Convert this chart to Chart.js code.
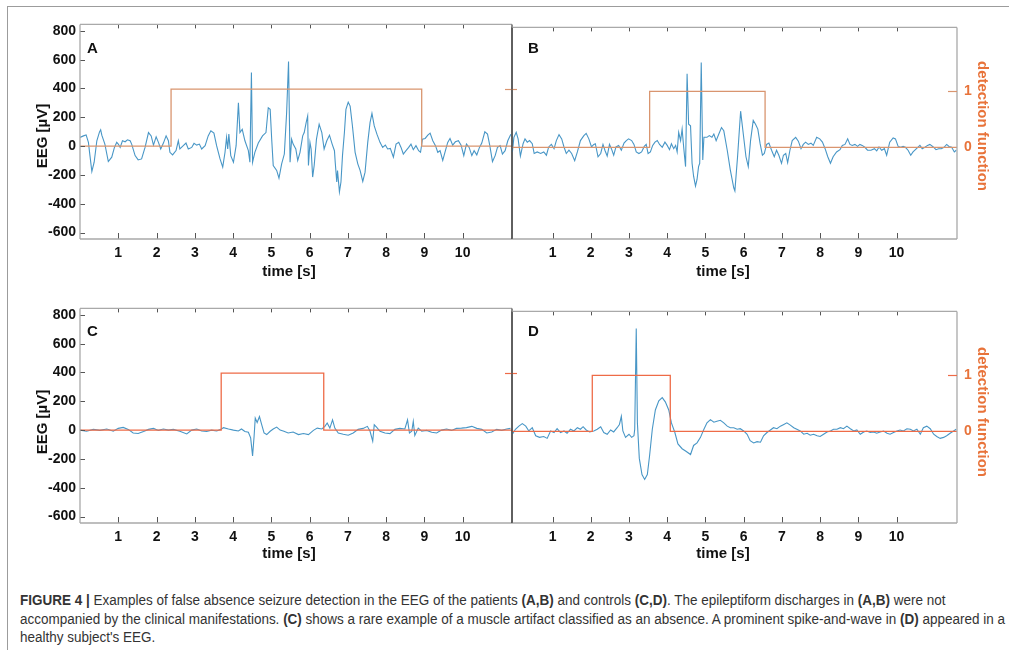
<!DOCTYPE html>
<html>
<head>
<meta charset="utf-8">
<script src="https://cdn.jsdelivr.net/npm/chart.js@4.4.1/dist/chart.umd.min.js"></script>
<style>
  body { margin:0; background:#fff; width:1009px; height:650px; overflow:hidden; position:relative; font-family:"Liberation Sans", Arial, sans-serif; }
  .frame-top { position:absolute; left:7px; top:6px; width:1002px; height:0; border-top:1.5px solid #9c9c9c; }
  .frame-left { position:absolute; left:7px; top:6px; width:0; height:644px; border-left:1.5px solid #9c9c9c; }
  canvas { position:absolute; }
  .lbl { position:absolute; font-weight:bold; color:#111; white-space:nowrap; transform:translate(-50%,-50%); }
  .ttl { font-size:15px; }
  .ylab { transform:translate(-50%,-50%) rotate(-90deg); }
  .dlab { transform:translate(-50%,-50%) rotate(90deg); color:#e8733a; }
  .letter { font-size:15px; transform:none; }
  .cl { position:absolute; left:20px; white-space:nowrap; font-size:14px; color:#333; transform-origin:0 50%; line-height:18px; }
</style>
</head>
<body>
<div class="frame-top"></div>
<div class="frame-left"></div>

<canvas id="cA" width="510" height="270" style="left:20px;top:12px"></canvas>
<canvas id="cB" width="505" height="270" style="left:500px;top:12px"></canvas>
<canvas id="cC" width="510" height="270" style="left:20px;top:296px"></canvas>
<canvas id="cD" width="505" height="270" style="left:500px;top:296px"></canvas>

<div class="lbl letter" style="left:87px;top:39px">A</div>
<div class="lbl letter" style="left:528px;top:39px">B</div>
<div class="lbl letter" style="left:87px;top:322px">C</div>
<div class="lbl letter" style="left:528px;top:322px">D</div>

<div class="lbl ttl ylab" style="left:41px;top:136px">EEG [µV]</div>
<div class="lbl ttl ylab" style="left:41px;top:422px">EEG [µV]</div>
<div class="lbl ttl" style="left:289px;top:270px">time [s]</div>
<div class="lbl ttl" style="left:723px;top:270px">time [s]</div>
<div class="lbl ttl" style="left:289px;top:552px">time [s]</div>
<div class="lbl ttl" style="left:723px;top:552px">time [s]</div>
<div class="lbl ttl dlab" style="left:983px;top:126px">detection function</div>
<div class="lbl ttl dlab" style="left:983px;top:412px">detection function</div>

<div class="cl" style="top:591px"><b>FIGURE 4 |</b> Examples of false absence seizure detection in the EEG of the patients <b>(A,B)</b> and controls <b>(C,D)</b>. The epileptiform discharges in <b>(A,B)</b> were not</div>
<div class="cl" style="top:610px">accompanied by the clinical manifestations. <b>(C)</b> shows a rare example of a muscle artifact classified as an absence. A prominent spike-and-wave in <b>(D)</b> appeared in a</div>
<div class="cl" style="top:628px">healthy subject's EEG.</div>

<script>
// ---- data ----
const xTicks = [1, 2, 3, 4, 5, 6, 7, 8, 9, 10];
const yTicks = [-600, -400, -200, 0, 200, 400, 600, 800];
const detTicks = [0, 1];

// panel A (patient)
const timeA = [0.00,0.09,0.16,0.22,0.26,0.31,0.37,0.44,0.51,0.54,0.57,0.65,0.74,0.83,0.90,0.96,1.00,1.05,1.11,1.18,1.24,1.31,1.35,1.44,1.52,1.61,1.70,1.79,1.86,1.92,1.99,2.05,2.11,2.18,2.25,2.31,2.35,2.42,2.51,2.57,2.61,2.70,2.77,2.83,2.92,2.98,3.05,3.12,3.18,3.27,3.35,3.42,3.50,3.57,3.66,3.73,3.79,3.83,3.86,3.89,3.94,4.01,4.08,4.14,4.18,4.24,4.31,4.40,4.44,4.48,4.51,4.57,4.66,4.77,4.86,4.92,4.97,5.01,5.05,5.14,5.20,5.27,5.34,5.40,5.45,5.49,5.53,5.57,5.64,
  5.69,5.75,5.82,5.86,5.91,5.95,5.97,6.01,6.04,6.08,6.12,6.18,6.25,6.32,6.38,6.45,6.52,6.59,6.65,6.67,6.71,6.73,6.78,6.82,6.86,6.91,6.95,7.01,7.06,7.12,7.19,7.26,7.32,7.39,7.45,7.52,7.58,7.63,7.69,7.76,7.84,7.91,7.98,8.04,8.11,8.19,8.26,8.33,8.39,8.45,8.52,8.59,8.65,8.71,8.78,8.85,8.90,8.95,9.02,9.09,9.15,9.22,9.29,9.35,9.41,9.48,9.55,9.61,9.67,9.74,9.81,9.89,9.96,10.03,10.10,10.17,10.24,10.30,10.37,10.44,10.50,10.58,10.65,10.71,10.78,10.85,10.91,10.98,11.04,11.11,11.18,11.26];
const eegA = [60,71,78,26,-66,-176,-112,37,99,113,76,14,-107,-77,-9,26,14,-9,37,30,44,37,14,-66,-96,-89,-9,94,71,7,65,26,-20,21,71,37,-43,-61,-31,37,-20,3,21,-20,-9,19,7,14,-20,3,71,106,90,3,-89,-146,-43,60,-20,83,-66,-112,3,300,94,117,37,-31,-112,511,-112,-43,21,71,94,266,255,48,-135,-169,-222,-123,-55,232,587,-112,48,14,-20,
  -100,-43,71,94,163,209,-135,26,-20,-215,-135,48,152,94,-20,37,76,14,-32,-112,-249,-169,-318,-249,-66,94,255,305,278,140,-43,-123,-169,-245,-181,26,163,227,140,83,26,-9,7,-20,-16,-77,14,26,-9,-55,-32,-9,14,-25,3,-32,-43,48,53,76,90,37,3,-43,-32,-100,-32,26,53,7,30,37,7,-66,14,-9,-66,-32,-61,-9,21,99,83,3,-107,-66,-9,3,-55,-32,37,83];
const detTimeA = [0, 2.38, 8.93, 11.29];
const detA = [0, 1, 0, 0];

// panel B (patient)
const timeB = [-0.05,-0.01,0.05,0.10,0.16,0.23,0.28,0.34,0.40,0.47,0.52,0.60,0.69,0.77,0.84,0.90,0.97,1.04,1.10,1.17,1.24,1.30,1.36,1.43,1.50,1.58,1.65,1.73,1.82,1.88,1.95,2.02,2.08,2.12,2.19,2.26,2.32,2.37,2.43,2.49,2.54,2.60,2.66,2.73,2.80,2.87,2.93,2.99,3.07,3.13,3.19,3.26,3.33,3.40,3.45,3.50,3.56,3.62,3.68,3.74,3.80,3.87,3.94,4.00,4.06,4.11,4.17,4.22,4.26,4.30,4.35,4.39,4.43,4.48,4.52,4.56,4.61,4.65,4.69,4.74,4.78,4.82,4.85,4.89,4.93,4.96,5.04,5.10,5.17,5.22,5.28,5.35,5.42,5.48,5.57,5.65,5.74,
  5.77,5.84,5.92,5.99,6.06,6.12,6.18,6.25,6.31,6.37,6.43,6.49,6.54,6.60,6.66,6.73,6.80,6.86,6.92,6.99,7.04,7.10,7.15,7.21,7.27,7.36,7.43,7.50,7.56,7.62,7.69,7.76,7.82,7.91,7.99,8.06,8.13,8.20,8.27,8.34,8.43,8.52,8.58,8.65,8.72,8.78,8.84,8.91,8.98,9.04,9.10,9.17,9.24,9.33,9.42,9.48,9.54,9.61,9.68,9.74,9.82,9.91,9.97,10.04,10.11,10.17,10.23,10.30,10.37,10.43,10.52,10.61,10.67,10.74,10.81,10.87,10.96,11.03,11.10,11.17,11.24,11.31,11.37,11.44,11.51,11.56];
const eegB = [-32,71,106,60,-61,26,60,37,48,26,-43,-32,-43,-32,-55,3,21,-9,48,90,60,3,-43,-20,-43,-94,-32,48,83,99,60,3,21,26,-66,-43,21,-20,-61,21,-9,-55,3,14,-20,30,48,60,48,21,-32,-43,-32,7,21,-43,-32,14,37,48,21,1,37,14,-16,26,-9,14,-32,106,48,129,3,-135,518,163,152,-112,-203,-272,-226,-135,-112,598,-89,71,71,83,71,94,48,94,140,117,-20,-158,-284,
  -306,-66,255,94,-66,-135,48,190,163,129,26,-55,-43,21,30,-20,-66,-20,-55,-112,-55,-43,-107,-20,48,71,44,-9,21,37,21,30,14,71,60,37,-9,-66,-112,-66,-32,-16,14,21,60,21,14,21,7,21,14,1,-20,-20,-9,-25,3,-20,-9,-55,37,67,60,7,1,7,1,-20,-55,-32,-9,14,-9,1,14,21,3,-16,-9,-9,1,21,7,1,-32,-20];
const detTimeB = [-0.06, 3.54, 6.56, 11.58];
const detB = [0, 1, 0, 0];

// panel C (control)
const timeC = [0,0.17,0.35,0.52,0.70,0.87,1.00,1.13,1.26,1.39,1.52,1.66,1.79,1.92,2.05,2.18,2.31,2.44,2.61,2.79,2.92,3.05,3.18,3.31,3.44,3.57,3.68,3.75,3.88,4.01,4.14,4.22,4.31,4.40,4.46,4.51,4.55,4.58,4.63,4.69,4.75,4.81,4.88,4.97,5.05,5.14,5.23,5.33,5.44,5.57,5.71,5.84,5.97,6.10,6.20,6.32,6.40,6.46,6.53,6.60,6.66,6.75,6.88,7.01,7.14,7.27,7.40,7.51,7.58,7.65,7.69,7.75,7.84,7.97,8.10,8.23,8.36,8.49,8.56,8.61,8.67,8.71,8.75,8.84,8.93,9.06,9.19,9.32,9.45,9.58,9.71,9.84,9.97,10.10,10.24,10.37,10.50,10.63,10.76,10.89,11.02,11.15,11.25];
const eegC = [0,-8,5,-2,8,-8,12,19,5,-20,-24,-10,5,12,-2,8,0,5,-8,-27,0,8,-6,-10,0,-6,5,17,8,0,-6,8,-10,-15,-54,-179,-43,83,53,94,37,-20,-31,-8,8,21,0,-8,-20,-13,-31,-24,-31,-2,14,8,26,49,14,71,14,-20,-29,-36,-20,5,12,26,-8,-77,37,21,-8,-20,-24,5,12,8,71,-20,-8,60,-38,14,-8,-2,-15,-20,0,8,-2,12,14,17,26,12,5,-20,-13,5,-2,8,12];
const detTimeC = [0, 3.69, 6.37, 11.29];
const detC = [0, 1, 0, 0];

// panel D (control)
const timeD = [-0.05,0.03,0.12,0.21,0.30,0.38,0.47,0.56,0.66,0.77,0.86,0.95,1.04,1.12,1.21,1.30,1.38,1.47,1.56,1.65,1.73,1.80,1.88,1.97,2.08,2.17,2.26,2.34,2.43,2.52,2.60,2.69,2.75,2.80,2.84,2.91,3.00,3.07,3.13,3.15,3.19,3.22,3.27,3.34,3.41,3.48,3.54,3.61,3.69,3.78,3.87,3.95,4.04,4.11,4.20,4.28,4.39,4.49,4.61,4.69,4.78,4.87,4.96,5.04,5.13,5.22,5.30,5.39,5.48,5.57,5.65,5.74,5.83,5.91,6.00,6.09,6.17,6.26,6.35,6.44,6.52,6.61,6.70,6.78,6.87,6.96,7.05,7.13,7.22,7.31,7.39,7.48,7.57,7.66,7.74,7.83,7.92,8.00,8.09,8.18,8.27,8.35,8.44,8.53,8.61,8.70,8.79,8.88,8.96,9.05,9.14,9.22,9.31,9.40,9.48,9.57,9.66,9.75,9.83,9.92,10.01,10.09,10.18,10.27,10.36,10.44,10.53,10.62,10.70,10.79,10.88,10.97,11.05,11.14,11.23,11.31,11.40,11.49,11.56];
const eegD = [-20,15,37,55,37,3,26,-31,-42,-36,-49,3,-8,19,-8,3,-13,15,3,26,15,33,10,-4,3,15,33,-8,-20,10,-4,26,49,106,3,-42,-20,-42,-31,15,725,60,-190,-304,-338,-304,-168,15,151,215,238,208,151,60,-8,-88,-122,-140,-163,-99,-81,-42,15,60,83,65,72,78,60,37,26,26,15,19,3,-20,-65,-81,-72,-76,-31,-8,10,26,19,37,49,60,44,26,15,3,-20,-13,-27,-20,-31,-36,-20,-4,3,15,15,26,19,37,19,3,10,-20,-4,3,-8,-4,-13,-4,3,-13,-20,-8,3,10,3,19,15,3,15,-20,26,37,19,-20,-36,-49,-42,-31,-13,3,15];
const detTimeD = [-0.06, 2.04, 4.08, 11.58];
const detD = [0, 1, 0, 0];

// ---- drawing ----
const FONT = '"Liberation Sans", Arial, sans-serif';
const EEG_MIN = -645, EEG_MAX = 845, DET_SCALE = 395;
const ORANGE_TXT = '#e8733a';

const boxPlugin = {
  id: 'box',
  afterDatasetsDraw(chart, args, o) {
    const ctx = chart.ctx, a = chart.chartArea, s = chart.scales;
    ctx.save();
    ctx.lineWidth = 1;
    ctx.strokeStyle = '#555';
    ctx.beginPath();
    s.x.ticks.forEach(t => {
      const px = Math.round(s.x.getPixelForValue(t.value)) + 0.5;
      ctx.moveTo(px, a.bottom); ctx.lineTo(px, a.bottom - 6);
      ctx.moveTo(px, a.top); ctx.lineTo(px, a.top + 4);
    });
    if (o.leftTicks) {
      s.y.ticks.forEach(t => {
        const py = Math.round(s.y.getPixelForValue(t.value)) + 0.5;
        ctx.moveTo(a.left, py); ctx.lineTo(a.left + 5, py);
      });
    }
    ctx.stroke();

    // box
    ctx.strokeStyle = '#a9a9a9';
    ctx.lineWidth = 1.3;
    ctx.beginPath();
    ctx.moveTo(a.left, a.top); ctx.lineTo(a.right, a.top);
    ctx.moveTo(a.left, a.bottom); ctx.lineTo(a.right, a.bottom);
    if (!o.darkLeft) { ctx.moveTo(a.left, a.top); ctx.lineTo(a.left, a.bottom); }
    if (!o.darkRight) { ctx.moveTo(a.right, a.top); ctx.lineTo(a.right, a.bottom); }
    ctx.stroke();
    ctx.strokeStyle = '#4a4a4a';
    ctx.beginPath();
    if (o.darkLeft) { ctx.moveTo(a.left, a.top); ctx.lineTo(a.left, a.bottom); }
    if (o.darkRight) { ctx.moveTo(a.right, a.top); ctx.lineTo(a.right, a.bottom); }
    ctx.stroke();

    // orange ticks of the detection axis
    ctx.strokeStyle = o.orange;
    ctx.lineWidth = 1.2;
    ctx.beginPath();
    const p1 = Math.round(s.y2.getPixelForValue(1)) + 0.5;
    if (o.rightTicks) {
      ctx.moveTo(a.right, p1); ctx.lineTo(a.right - 9, p1);
    } else {
      ctx.moveTo(a.right - 7, p1); ctx.lineTo(a.right + 5, p1);
    }
    ctx.stroke();
    ctx.restore();
  }
};

function makePanel(id, cfg) {
  const tickFont = { family: FONT, size: 14, weight: 'bold' };
  new Chart(document.getElementById(id), {
    type: 'line',
    data: {
      datasets: [
        {
          data: cfg.detTime.map((t, i) => ({ x: t, y: cfg.det[i] })),
          yAxisID: 'y2', stepped: true,
          borderColor: cfg.orange, borderWidth: 1.3, pointRadius: 0, fill: false
        },
        {
          data: cfg.time.map((t, i) => ({ x: t, y: cfg.eeg[i] })),
          yAxisID: 'y',
          borderColor: '#4896c6', borderWidth: 1.1, pointRadius: 0, tension: 0, fill: false
        }
      ]
    },
    options: {
      responsive: false, animation: false, events: [],
      layout: { padding: cfg.padding },
      plugins: {
        legend: { display: false }, tooltip: { enabled: false },
        box: { leftTicks: cfg.left, rightTicks: !cfg.left, darkLeft: !cfg.left, darkRight: cfg.left, orange: cfg.orange }
      },
      scales: {
        x: {
          type: 'linear', min: cfg.xmin, max: cfg.xmax,
          afterBuildTicks: sc => { sc.ticks = xTicks.map(v => ({ value: v })); },
          afterFit: sc => { sc.height = 43; },
          grid: { display: false, drawTicks: false }, border: { display: false },
          ticks: { padding: 6, color: '#111', font: tickFont, maxRotation: 0, autoSkip: false }
        },
        y: {
          display: cfg.left, min: EEG_MIN, max: EEG_MAX,
          afterBuildTicks: sc => { sc.ticks = yTicks.map(v => ({ value: v })); },
          afterFit: sc => { if (cfg.left) sc.width = 60; },
          grid: { display: false, drawTicks: false }, border: { display: false },
          ticks: { padding: 4, color: '#111', font: tickFont, callback: v => String(v) }
        },
        y2: {
          display: !cfg.left, position: 'right',
          min: EEG_MIN / DET_SCALE, max: EEG_MAX / DET_SCALE,
          afterBuildTicks: sc => { sc.ticks = detTicks.map(v => ({ value: v })); },
          afterFit: sc => { if (!cfg.left) sc.width = 48; },
          grid: { display: false, drawTicks: false }, border: { display: false },
          ticks: { padding: 7, color: ORANGE_TXT, font: { family: FONT, size: 14, weight: 'bold' }, callback: v => String(v) }
        }
      }
    },
    plugins: [boxPlugin]
  });
}

const leftPad = { top: 10, left: 0, right: 18, bottom: 0 };
const rightPad = { top: 10, left: 12, right: 0, bottom: 0 };

makePanel('cA', { time: timeA, eeg: eegA, detTime: detTimeA, det: detA, xmin: 0, xmax: 11.29, left: true, padding: leftPad, orange: '#d9956f' });
makePanel('cB', { time: timeB, eeg: eegB, detTime: detTimeB, det: detB, xmin: -0.06, xmax: 11.58, left: false, padding: rightPad, orange: '#d9956f' });
makePanel('cC', { time: timeC, eeg: eegC, detTime: detTimeC, det: detC, xmin: 0, xmax: 11.29, left: true, padding: leftPad, orange: '#ee6b47' });
makePanel('cD', { time: timeD, eeg: eegD, detTime: detTimeD, det: detD, xmin: -0.06, xmax: 11.58, left: false, padding: rightPad, orange: '#ee6b47' });

// caption set in a condensed width to match the figure
const lines = document.querySelectorAll('.cl');
const natural = lines[1].getBoundingClientRect().width;
const f = 985 / natural;
lines.forEach(l => { l.style.transform = 'scaleX(' + f + ')'; });
</script>
</body>
</html>
